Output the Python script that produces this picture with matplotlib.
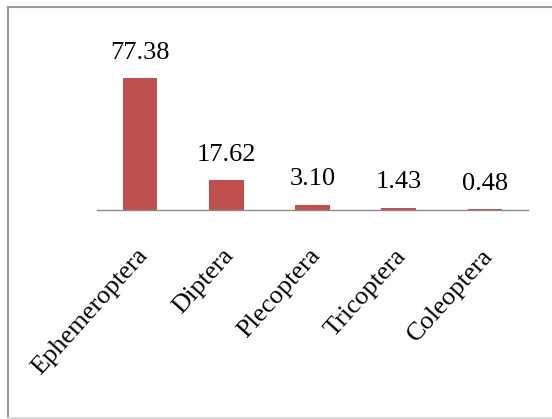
import matplotlib.pyplot as plt
import matplotlib.transforms as mtransforms
from matplotlib.lines import Line2D

# Доля отрядов (%)
orders = ['Ephemeroptera', 'Diptera', 'Plecoptera', 'Tricoptera', 'Coleoptera']
shares = [77.38, 17.62, 3.10, 1.43, 0.48]
share_labels = ['77.38', '17.62', '3.10', '1.43', '0.48']

plt.rcParams['font.family'] = ['Liberation Serif', 'DejaVu Serif']

fig = plt.figure(figsize=(5.52, 4.19), dpi=100)
ax = fig.add_axes([0.1757, 0.4988, 0.7808, 0.3664])

x = list(range(len(orders)))
ax.bar(x, shares, width=0.4, color='#C0504D')

# Подписи значений над столбцами
for xi, v, s in zip(x, shares, share_labels):
    ax.annotate(s, xy=(xi, v), xytext=(0, 14), textcoords='offset points',
                ha='center', va='baseline', fontsize=19, color='black')

ax.set_xlim(-0.5, 4.5)
ax.set_ylim(0, 90)
ax.set_yticks([])
ax.set_xticks(x)
ax.set_xticklabels(orders, rotation=48, ha='right', rotation_mode='anchor', fontsize=19)
ax.tick_params(axis='x', length=0, pad=25)
shift = mtransforms.ScaledTranslation(-4 / 100, 0, fig.dpi_scale_trans)
for lbl in ax.get_xticklabels():
    lbl.set_transform(lbl.get_transform() + shift)

for side in ['top', 'right', 'left']:
    ax.spines[side].set_visible(False)
ax.spines['bottom'].set_color('#8c8c8c')
ax.spines['bottom'].set_linewidth(1.0)

# Рамка вокруг диаграммы
fig.add_artist(Line2D([8 / 552, 8 / 552], [1 - 7 / 419, 1 - 418 / 419],
                      transform=fig.transFigure, color='#9a9a9a', lw=1.5))
fig.add_artist(Line2D([8 / 552, 1.0], [1 - 7 / 419, 1 - 7 / 419],
                      transform=fig.transFigure, color='#9a9a9a', lw=1.5))
fig.add_artist(Line2D([8 / 552, 1.0], [1 - 418 / 419, 1 - 418 / 419],
                      transform=fig.transFigure, color='#d9d9d9', lw=1.5))

fig.savefig('out.png', dpi=100)
